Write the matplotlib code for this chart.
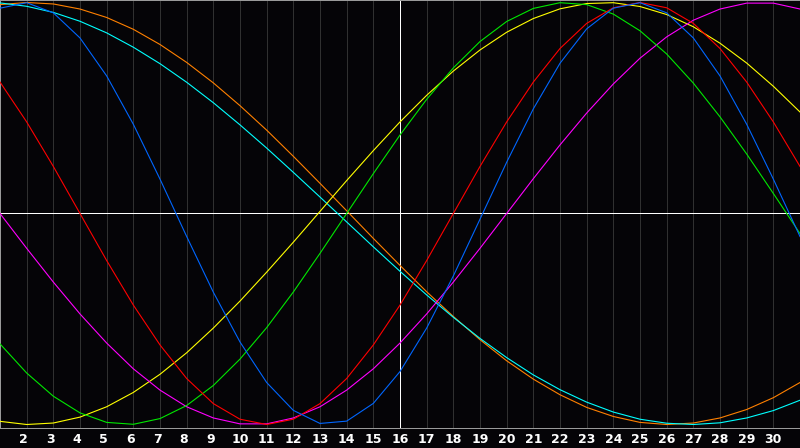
import matplotlib.pyplot as plt

# days shown on the chart
days = list(range(1, 32))
tick_days = list(range(2, 31))

# curve values, one per day (1..31)
red = [0.623, 0.434, 0.223, 0.0, -0.223, -0.434, -0.623, -0.782, -0.901, -0.975,
       -1.0, -0.975, -0.901, -0.782, -0.623, -0.434, -0.223, 0.0, 0.223, 0.434,
       0.623, 0.782, 0.901, 0.975, 1.0, 0.975, 0.901, 0.782, 0.623, 0.434, 0.223]
blue = [0.973, 0.999, 0.951, 0.832, 0.652, 0.423, 0.163, -0.109, -0.373, -0.609,
        -0.801, -0.933, -0.995, -0.984, -0.900, -0.749, -0.543, -0.296, -0.027, 0.243,
        0.496, 0.712, 0.875, 0.973, 0.999, 0.951, 0.832, 0.652, 0.423, 0.163, -0.109]
green = [-0.618, -0.756, -0.866, -0.945, -0.990, -0.999, -0.972, -0.910, -0.815, -0.690,
         -0.541, -0.372, -0.189, 0.0, 0.189, 0.372, 0.541, 0.690, 0.815, 0.910,
         0.972, 0.999, 0.990, 0.945, 0.866, 0.756, 0.618, 0.458, 0.282, 0.095, -0.095]
magenta = [0.0, -0.165, -0.325, -0.476, -0.614, -0.736, -0.837, -0.916, -0.969, -0.997,
           -0.997, -0.969, -0.916, -0.837, -0.736, -0.614, -0.476, -0.325, -0.165, 0.0,
           0.165, 0.325, 0.476, 0.614, 0.736, 0.837, 0.916, 0.969, 0.997, 0.997, 0.969]
yellow = [-0.985, -1.0, -0.993, -0.965, -0.916, -0.848, -0.762, -0.660, -0.543, -0.415,
          -0.278, -0.136, 0.010, 0.156, 0.298, 0.434, 0.560, 0.675, 0.775, 0.859,
          0.924, 0.970, 0.995, 0.999, 0.981, 0.943, 0.885, 0.807, 0.713, 0.603, 0.481]
orange = [0.990, 1.0, 0.993, 0.969, 0.929, 0.873, 0.801, 0.716, 0.619, 0.511,
          0.395, 0.271, 0.143, 0.013, -0.118, -0.246, -0.371, -0.488, -0.598, -0.698,
          -0.785, -0.859, -0.919, -0.962, -0.990, -1.0, -0.993, -0.969, -0.929, -0.873, -0.801]
cyan = [0.998, 0.982, 0.953, 0.911, 0.856, 0.788, 0.710, 0.622, 0.525, 0.420,
        0.310, 0.195, 0.078, -0.040, -0.158, -0.274, -0.386, -0.492, -0.592, -0.683,
        -0.765, -0.835, -0.894, -0.941, -0.975, -0.994, -1.0, -0.992, -0.969, -0.934, -0.885]

curves = [
    (orange, '#ff8000'),
    (cyan, '#00ffff'),
    (yellow, '#ffff00'),
    (magenta, '#ff00ff'),
    (green, '#00e800'),
    (red, '#ff0000'),
    (blue, '#0066ff'),
]

fig = plt.figure(figsize=(8, 4.48), dpi=100, facecolor='#050407')
ax = fig.add_axes([0, 20 / 448, 1, 428 / 448])
ax.set_facecolor('#050407')

# grid lines for each day
for d in tick_days:
    if d == 16:
        continue
    ax.axvline(d, color='#303030', lw=0.72, antialiased=False, zorder=1)

# centre cross
ax.axvline(16, color='white', lw=0.72, antialiased=False, zorder=2)
ax.axhline(0, color='white', lw=0.72, antialiased=False, zorder=2)

for vals, col in curves:
    ax.plot(days, vals, color=col, lw=0.8, zorder=3)

ax.set_xlim(1, 31)
ax.set_ylim(-1.0166, 1.0118)
ax.set_xticks([])
ax.set_yticks([])
for s in ax.spines.values():
    s.set_color('#9a9a9a')
    s.set_linewidth(0.72)
    s.set_antialiased(False)

# day labels under the plot
for d in tick_days:
    off = -0.11 if d < 10 else 0.0
    ax.text(d + off, -11 / 428, str(d), transform=ax.get_xaxis_transform(),
            ha='center', va='center', color='white', fontsize=9,
            fontweight='bold', family='DejaVu Sans')

fig.savefig('out.png', dpi=100, facecolor=fig.get_facecolor())
